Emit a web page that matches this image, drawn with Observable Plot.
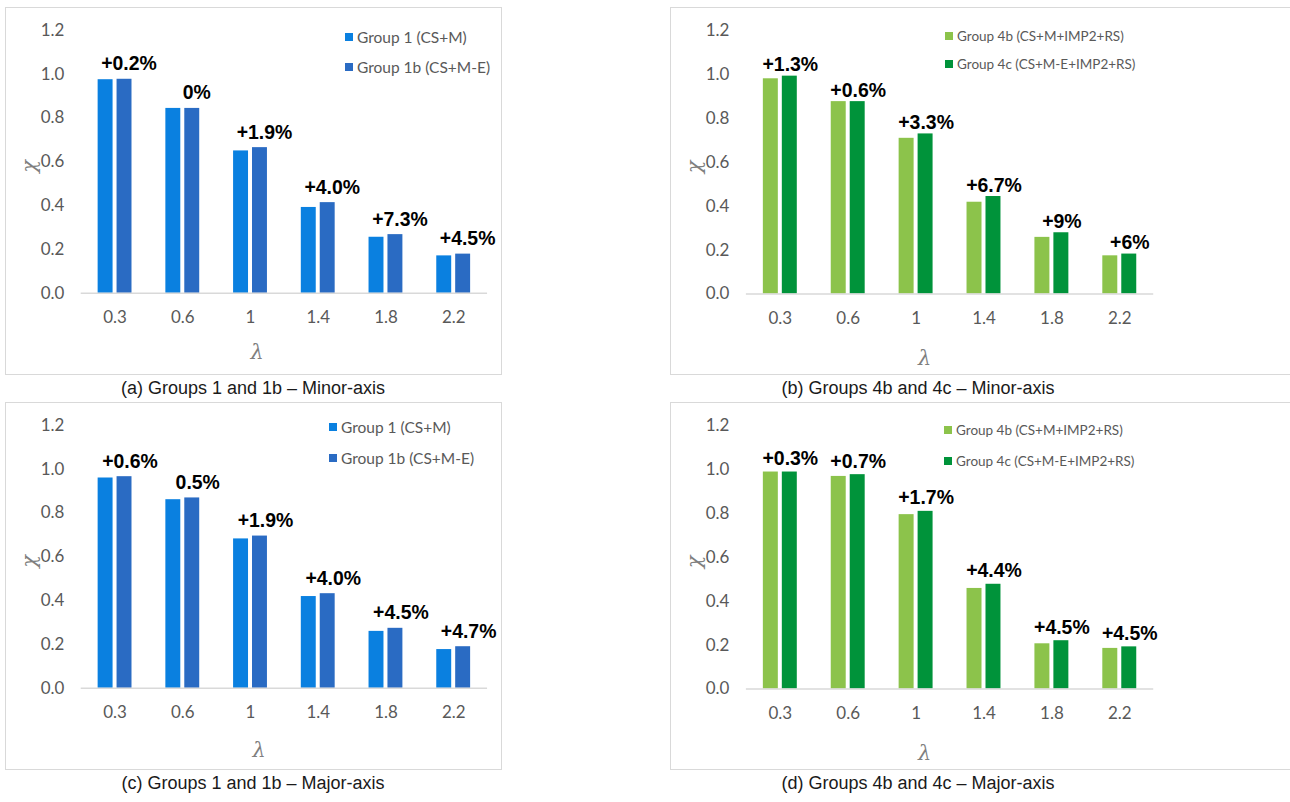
<!DOCTYPE html>
<html><head><meta charset="utf-8">
<script src="https://cdn.jsdelivr.net/npm/d3@7"></script>
<script src="https://cdn.jsdelivr.net/npm/@observablehq/plot@0.6"></script>
<style>
body{margin:0;background:#fff;width:1290px;height:802px;position:relative;overflow:hidden;font-family:Lato,sans-serif}
.panel{position:absolute;border:1px solid #d9d9d9;box-sizing:border-box;background:#fff}
.panel svg{position:absolute;left:0;top:0}
.cap{position:absolute;font:18px "Liberation Sans",Arial,sans-serif;color:#1a1a1a;transform:translate(-50%,-50%);white-space:nowrap}
.leg{position:absolute;font-family:Lato,sans-serif;color:#595959;white-space:nowrap;display:flex;align-items:center;transform:translateY(-50%)}
.leg i{display:inline-block;width:8px;height:8px;margin-right:4px}
</style></head><body>
<script>
const lambdas = ["0.3", "0.6", "1", "1.4", "1.8", "2.2"];
const yTicks = [0, 0.2, 0.4, 0.6, 0.8, 1.0, 1.2];

// (a) Groups 1 and 1b – Minor-axis
const aGroup1  = [0.975, 0.844, 0.650, 0.392, 0.256, 0.171];
const aGroup1b = [0.977, 0.844, 0.665, 0.414, 0.268, 0.179];
const aLabels  = ["+0.2%", "0%", "+1.9%", "+4.0%", "+7.3%", "+4.5%"];
// (b) Groups 4b and 4c – Minor-axis
const bGroup4b = [0.980, 0.876, 0.709, 0.418, 0.258, 0.174];
const bGroup4c = [0.992, 0.876, 0.729, 0.444, 0.279, 0.182];
const bLabels  = ["+1.3%", "+0.6%", "+3.3%", "+6.7%", "+9%", "+6%"];
// (c) Groups 1 and 1b – Major-axis
const cGroup1  = [0.960, 0.861, 0.682, 0.419, 0.260, 0.177];
const cGroup1b = [0.966, 0.869, 0.695, 0.432, 0.274, 0.190];
const cLabels  = ["+0.6%", "0.5%", "+1.9%", "+4.0%", "+4.5%", "+4.7%"];
// (d) Groups 4b and 4c – Major-axis
const dGroup4b = [0.988, 0.968, 0.794, 0.458, 0.206, 0.185];
const dGroup4c = [0.988, 0.976, 0.809, 0.477, 0.220, 0.192];
const dLabels  = ["+0.3%", "+0.7%", "+1.7%", "+4.4%", "+4.5%", "+4.5%"];

const namesBlue  = ["Group 1 (CS+M)", "Group 1b (CS+M-E)"];
const namesGreen = ["Group 4b (CS+M+IMP2+RS)", "Group 4c (CS+M-E+IMP2+RS)"];
const colorsBlue  = ["#0a80e0", "#2a6bc3"];
const colorsGreen = ["#8cc34b", "#00933a"];

const captions = [
  "(a) Groups 1 and 1b \u2013 Minor-axis",
  "(b) Groups 4b and 4c \u2013 Minor-axis",
  "(c) Groups 1 and 1b \u2013 Major-axis",
  "(d) Groups 4b and 4c \u2013 Major-axis"
];

function panel(o) {
  const div = document.createElement("div");
  div.className = "panel";
  Object.assign(div.style, {left: o.left + "px", top: o.top + "px", width: o.width + "px", height: o.height + "px"});
  if (o.noRight) div.style.borderRight = "none";
  const d1 = lambdas.map((l, i) => ({lambda: l, v: o.s1[i]}));
  const d2 = lambdas.map((l, i) => ({lambda: l, v: o.s2[i]}));
  const lab = lambdas.map((l, i) => ({lambda: l, v: Math.max(o.s1[i], o.s2[i]), t: o.labels[i]}));
  const chart = Plot.plot({
    width: o.width, height: o.height,
    marginLeft: 75, marginRight: o.width - 483, marginTop: 22, marginBottom: o.height - 286,
    x: {domain: lambdas, padding: 0},
    y: {domain: [0, 1.2]},
    style: {fontFamily: "Lato, sans-serif", fontSize: "17px", color: "#595959", background: "transparent"},
    marks: [
      Plot.axisY({ticks: yTicks, tickSize: 0, tickPadding: 17, tickFormat: d => d.toFixed(1), label: null, fontSize: 17}),
      Plot.axisX({tickSize: 0, tickPadding: 18, label: null, fontSize: 17}),
      Plot.barY(d1, {x: "lambda", y: "v", fill: o.colors[0], insetLeft: 17, insetRight: 36}),
      Plot.barY(d2, {x: "lambda", y: "v", fill: o.colors[1], insetLeft: 36, insetRight: 17}),
      Plot.ruleY([0], {stroke: "#d9d9d9", strokeWidth: 1.5}),
      Plot.text(lab, {x: "lambda", y: "v", text: "t", dx: o.labelDx, dy: -o.labelGap, lineAnchor: "bottom",
        fontWeight: "bold", fontSize: 19.5, fontFamily: "Liberation Sans, Arial, sans-serif", fill: "#000"}),
      Plot.text(["\u03bb"], {frameAnchor: "bottom-left", dx: o.lamX - 75, dy: o.lamY - 286, lineAnchor: "middle",
        fontSize: 21, fontStyle: "italic", fontFamily: "DejaVu Serif, serif", fill: "#7f7f7f"}),
      Plot.text(["\u03c7"], {frameAnchor: "left", dx: -52, dy: 11, rotate: -90, lineAnchor: "middle",
        fontSize: 21, fontStyle: "italic", fontFamily: "DejaVu Serif, serif", fill: "#7f7f7f"})
    ]
  });
  div.appendChild(chart);
  o.names.forEach((n, i) => {
    const l = document.createElement("div");
    l.className = "leg";
    l.style.left = o.legX + "px";
    l.style.top = o.legY[i] + "px";
    l.style.fontSize = o.legSize + "px";
    l.innerHTML = `<i style="background:${o.colors[i]}"></i>${n}`;
    div.appendChild(l);
  });
  document.body.appendChild(div);
  const c = document.createElement("div");
  c.className = "cap";
  c.textContent = o.caption;
  c.style.left = o.capX + "px";
  c.style.top = o.capY + "px";
  document.body.appendChild(c);
}

panel({left: 5, top: 7, width: 497, height: 368, s1: aGroup1, s2: aGroup1b, labels: aLabels,
  names: namesBlue, colors: colorsBlue, legSize: 15.5, labelDx: 14, labelGap: 9, legX: 339, legY: [29, 59],
  lamX: 245, lamY: 345, caption: captions[0], capX: 253, capY: 388});
panel({left: 670, top: 7, width: 621, height: 368, s1: bGroup4b, s2: bGroup4c, labels: bLabels, noRight: true,
  names: namesGreen, colors: colorsGreen, legSize: 13.5, labelDx: 10, labelGap: 5, legX: 274, legY: [28, 56],
  lamX: 247, lamY: 350, caption: captions[1], capX: 918, capY: 388});
panel({left: 5, top: 402, width: 497, height: 368, s1: cGroup1, s2: cGroup1b, labels: cLabels,
  names: namesBlue, colors: colorsBlue, legSize: 15.5, labelDx: 15, labelGap: 9, legX: 323, legY: [24, 55],
  lamX: 247, lamY: 348, caption: captions[2], capX: 253, capY: 783});
panel({left: 670, top: 402, width: 621, height: 368, s1: dGroup4b, s2: dGroup4c, labels: dLabels, noRight: true,
  names: namesGreen, colors: colorsGreen, legSize: 13.5, labelDx: 10, labelGap: 7, legX: 273, legY: [27, 58],
  lamX: 247, lamY: 350, caption: captions[3], capX: 918, capY: 783});
</script>
</body></html>
